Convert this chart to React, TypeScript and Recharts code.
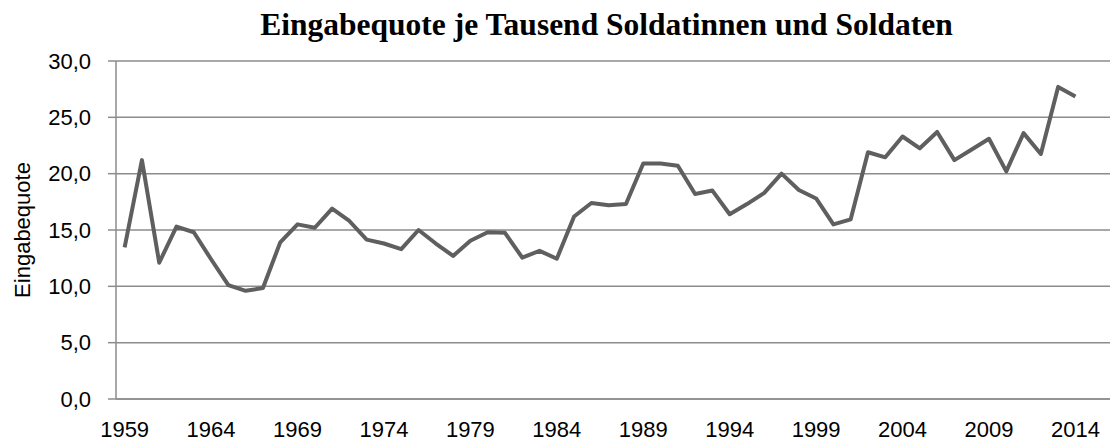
import React from "react";
import { LineChart, Line, XAxis, YAxis, CartesianGrid, Label } from "recharts";

const years: number[] = [
  1959, 1960, 1961, 1962, 1963, 1964, 1965, 1966, 1967, 1968,
  1969, 1970, 1971, 1972, 1973, 1974, 1975, 1976, 1977, 1978,
  1979, 1980, 1981, 1982, 1983, 1984, 1985, 1986, 1987, 1988,
  1989, 1990, 1991, 1992, 1993, 1994, 1995, 1996, 1997, 1998,
  1999, 2000, 2001, 2002, 2003, 2004, 2005, 2006, 2007, 2008,
  2009, 2010, 2011, 2012, 2013, 2014,
];

const quote: number[] = [
  13.45, 21.2, 12.1, 15.3, 14.8, 12.4, 10.1, 9.6, 9.85, 13.9,
  15.5, 15.2, 16.9, 15.8, 14.15, 13.8, 13.3, 15.0, 13.8, 12.7,
  14.05, 14.8, 14.75, 12.55, 13.15, 12.45, 16.2, 17.4, 17.2, 17.3,
  20.9, 20.9, 20.7, 18.2, 18.5, 16.4, 17.3, 18.3, 20.0, 18.55,
  17.8, 15.5, 15.95, 21.9, 21.45, 23.3, 22.25, 23.7, 21.2, 22.15,
  23.1, 20.2, 23.6, 21.75, 27.7, 26.85,
];

const xTicks: number[] = [1959, 1964, 1969, 1974, 1979, 1984, 1989, 1994, 1999, 2004, 2009, 2014];
const yTicks: number[] = [0, 5, 10, 15, 20, 25, 30];

const title = "Eingabequote je Tausend Soldatinnen und Soldaten";
const yLabel = "Eingabequote";

const data = years.map((y, i) => ({ year: y, value: quote[i] }));

const tickFont = { fontFamily: "'Liberation Sans', Arial, sans-serif", fontSize: 22, fill: "#000" };

export default function App() {
  return (
    <div style={{ position: "absolute", left: 0, top: 0, width: 1116, height: 445, background: "#fff" }}>
      <div
        style={{
          position: "absolute",
          left: 0,
          top: 9,
          width: 1213,
          textAlign: "center",
          fontFamily: "'Liberation Serif', 'Times New Roman', serif",
          fontWeight: "bold",
          fontSize: 31.5,
          lineHeight: "31px",
          color: "#000",
          whiteSpace: "nowrap",
        }}
      >
        {title}
      </div>
      <LineChart
        width={1116}
        height={445}
        data={data}
        margin={{ top: 61, right: 6, bottom: 0, left: 0 }}
      >
        <CartesianGrid vertical={false} stroke="#8c8c8c" strokeWidth={1.5} />
        <XAxis
          dataKey="year"
          type="number"
          domain={[1958.5, 2015.5]}
          ticks={xTicks}
          interval={0}
          height={46}
          tickLine={false}
          tickSize={8}
          tickMargin={14}
          axisLine={{ stroke: "#8c8c8c", strokeWidth: 1.5 }}
          tick={tickFont}
          allowDecimals={false}
        />
        <YAxis
          type="number"
          domain={[0, 30]}
          ticks={yTicks}
          width={116}
          tickSize={8}
          tickMargin={17}
          tickLine={{ stroke: "#8c8c8c", strokeWidth: 1.5 }}
          axisLine={{ stroke: "#8c8c8c", strokeWidth: 1.5 }}
          tick={tickFont}
          tickFormatter={(v: number) => v.toFixed(1).replace(".", ",")}
        >
          <Label
            content={(props: any) => {
              const vb = props.viewBox || { x: 0, y: 61, width: 116, height: 338 };
              const cx = 22;
              const cy = vb.y + vb.height / 2;
              return (
                <text
                  x={cx}
                  y={cy}
                  transform={`rotate(-90 ${cx} ${cy})`}
                  textAnchor="middle"
                  dominantBaseline="central"
                  style={{ fontFamily: "'Liberation Sans', Arial, sans-serif", fontSize: 22, fill: "#000" }}
                >
                  {yLabel}
                </text>
              );
            }}
          />
        </YAxis>
        <Line
          type="linear"
          dataKey="value"
          stroke="#5f5f5f"
          strokeWidth={4}
          dot={false}
          isAnimationActive={false}
          strokeLinejoin="round"
        />
      </LineChart>
    </div>
  );
}
